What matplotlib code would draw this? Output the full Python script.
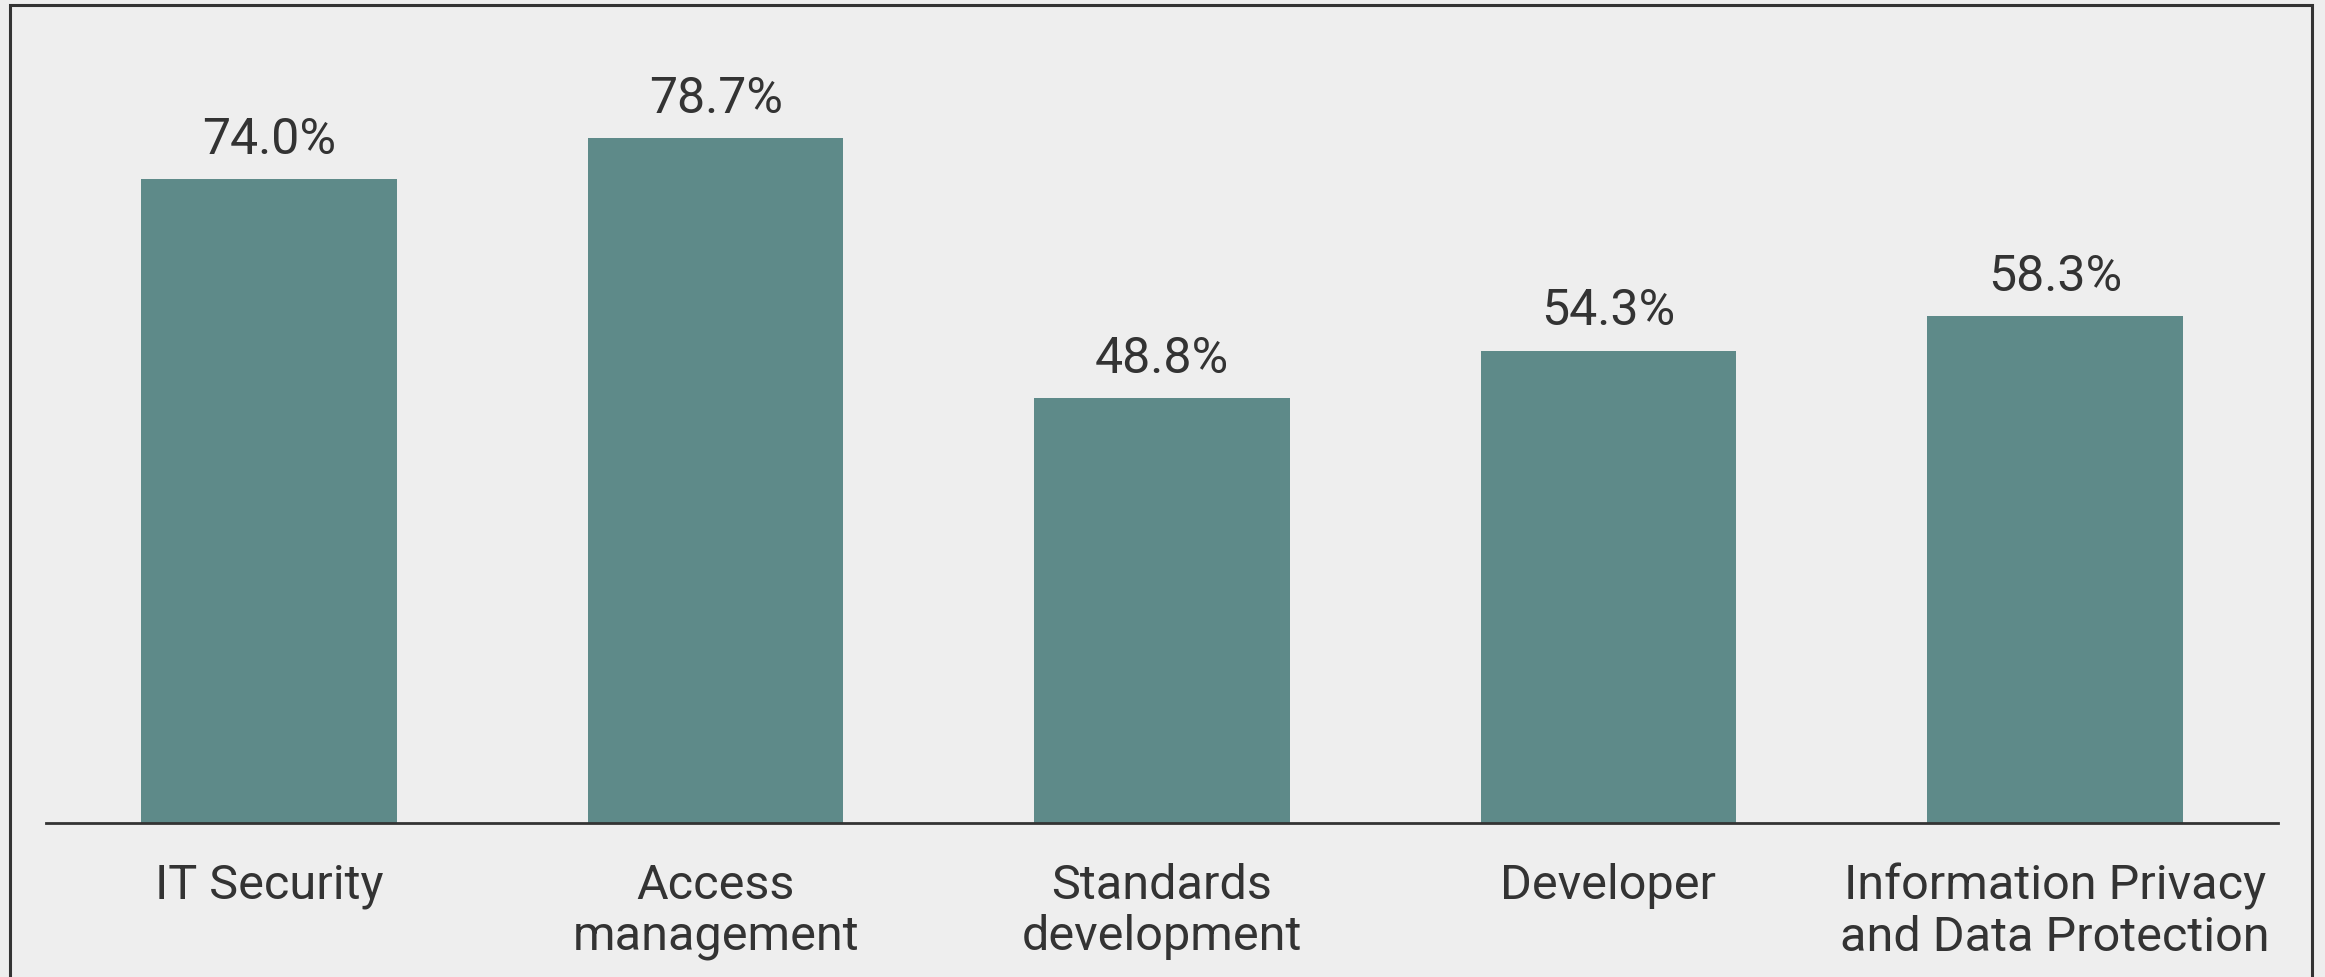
import matplotlib
matplotlib.use("Agg")
import matplotlib.pyplot as plt
from matplotlib.patches import Rectangle

categories = ["IT Security", "Access\nmanagement", "Standards\ndevelopment",
              "Developer", "Information Privacy\nand Data Protection"]
values = [74.0, 78.7, 48.8, 54.3, 58.3]
labels = ["74.0%", "78.7%", "48.8%", "54.3%", "58.3%"]

W, H = 2325, 977
dpi = 100
fig = plt.figure(figsize=(W / dpi, H / dpi), dpi=dpi)
bg = "#EEEEEE"
fig.patch.set_facecolor(bg)

# axes in pixel positions
ax_left, ax_right = 46, 2278
ax_bottom = 823
ymax = 90.0
px_per_unit = 8.7
ax_top = ax_bottom - ymax * px_per_unit
ax = fig.add_axes([ax_left / W, 1 - ax_bottom / H, (ax_right - ax_left) / W, (ax_bottom - ax_top) / H])
ax.set_facecolor(bg)

x = list(range(len(categories)))
bars = ax.bar(x, values, width=0.573, color="#5E8A89", zorder=2)
ax.set_xlim(-0.5, len(categories) - 0.5)
ax.set_ylim(0, ymax)

for b, lab in zip(bars, labels):
    ax.annotate(lab, (b.get_x() + b.get_width() / 2, b.get_height()),
                xytext=(0, 11), textcoords="offset points", ha="center", va="bottom",
                fontsize=36, color="#333333", family="Roboto")

ax.set_xticks(x)
ax.set_xticklabels(categories, fontsize=35, color="#333333", family="Roboto", linespacing=1.12, va="top")
ax.tick_params(axis="x", length=0, pad=29)
ax.set_yticks([])
for s in ["top", "right", "left"]:
    ax.spines[s].set_visible(False)
ax.spines["bottom"].set_color("#333333")
ax.spines["bottom"].set_linewidth(2)

# outer border
fig.patches.append(Rectangle((10 / W, -0.1), (2312 - 10) / W, 1.1 - 4.5 / H,
                             transform=fig.transFigure, fill=False,
                             edgecolor="#333333", linewidth=2.2))

fig.savefig("out.png", dpi=dpi, facecolor=bg)
